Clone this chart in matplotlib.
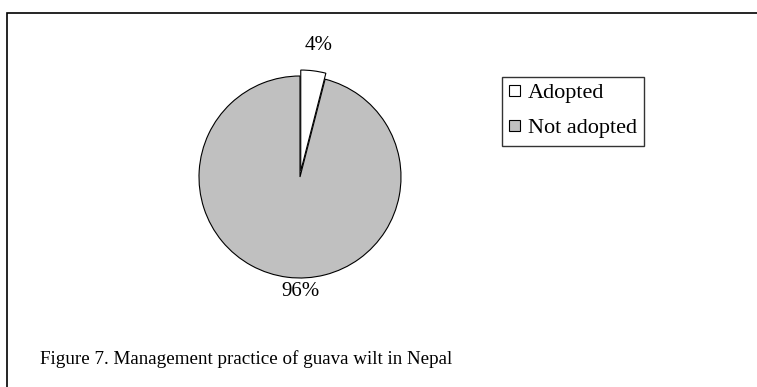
"""Pie chart: management practice of guava wilt in Nepal."""

import matplotlib

matplotlib.use("Agg")
import matplotlib.pyplot as plt
from matplotlib.patches import Rectangle

labels = ["Adopted", "Not adopted"]
shares = [4, 96]
colors = ["white", "#c0c0c0"]
caption = "Figure 7. Management practice of guava wilt in Nepal"

plt.rcParams["font.family"] = ["Liberation Serif", "DejaVu Serif"]

W, H = 757, 387
fig = plt.figure(figsize=(W / 100, H / 100), dpi=100)

# outer frame, cut by the right and bottom edges
fig.add_artist(Rectangle((7 / W, -0.1), 1.2, 1 - 13 / H + 0.1,
                         transform=fig.transFigure, fill=False,
                         edgecolor="black", lw=1.2))

# pie axes: 1 data unit = 100 px, centre at (300, 177)
cx, cy = 300, 177
ax = fig.add_axes([(cx - 130) / W, 1 - (cy + 130) / H, 260 / W, 260 / H])
wedges, _ = ax.pie(shares, colors=colors, startangle=90, counterclock=False,
                   explode=[0.06, 0], radius=1.01,
                   wedgeprops=dict(edgecolor="black", linewidth=0.8))
ax.set_xlim(-1.3, 1.3)
ax.set_ylim(-1.3, 1.3)
ax.set_aspect("equal")
ax.axis("off")

ax.text(0.19, 1.31, f"{shares[0]}%", ha="center", va="center", fontsize=15)
ax.text(0.01, -1.15, f"{shares[1]}%", ha="center", va="center", fontsize=15)

leg = fig.legend(wedges, labels, loc="upper left",
                 bbox_to_anchor=(502 / W, 1 - 77 / H),
                 frameon=True, fancybox=False, fontsize=16,
                 handlelength=0.47, handleheight=0.42, handletextpad=0.35,
                 labelspacing=0.72, borderpad=0.33, borderaxespad=0)
leg.get_frame().set_edgecolor("black")
leg.get_frame().set_linewidth(1.0)
for h in leg.legend_handles:
    h.set_linewidth(0.8)

fig.text(40 / W, 1 - 359 / H, caption, ha="left", va="center", fontsize=13.7)

fig.savefig("out.png", dpi=100)
